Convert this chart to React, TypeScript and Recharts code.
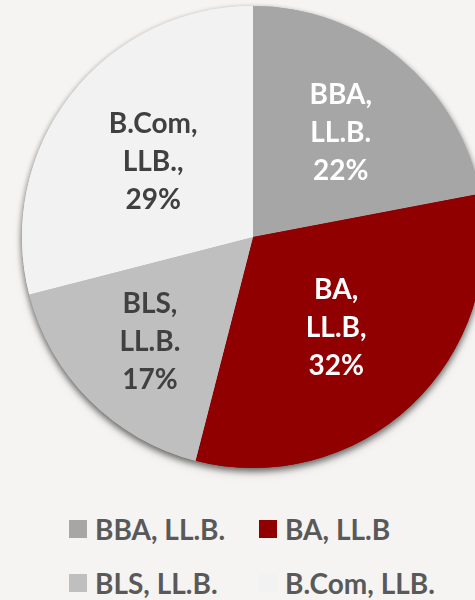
import React from "react";
import { PieChart, Pie, Cell, Legend } from "recharts";

const categories = ["BBA, LL.B.", "BA, LL.B", "BLS, LL.B.", "B.Com, LLB."];
const labelNames = [
  ["BBA,", "LL.B."],
  ["BA,", "LL.B,"],
  ["BLS,", "LL.B."],
  ["B.Com,", "LLB.,"],
];
const shares = [22, 32, 17, 29];
const colors = ["#a6a6a6", "#900000", "#bfbfbf", "#f2f2f2"];
const labelColors = ["#ffffff", "#ffffff", "#404040", "#404040"];

const data = categories.map((name, i) => ({ name, value: shares[i] }));

const FONT = "Lato, 'Open Sans', sans-serif";
const RADIAN = Math.PI / 180;

// narrow slices push their label further out, like Excel's best fit
function renderLabel(props: any) {
  const { cx, cy, midAngle, outerRadius, index, value, percent } = props;
  const r = outerRadius * (0.75 - percent * 0.7);
  const x = cx + r * Math.cos(-midAngle * RADIAN);
  const y = cy + r * Math.sin(-midAngle * RADIAN);
  const lines = [...labelNames[index], `${value}%`];
  return (
    <text
      x={x}
      y={y}
      textAnchor="middle"
      dominantBaseline="central"
      fill={labelColors[index]}
      fontSize={28}
      fontWeight={700}
      fontFamily={FONT}
    >
      {lines.map((t, j) => (
        <tspan key={j} x={x} y={y + (j - 1) * 38}>
          {t}
        </tspan>
      ))}
    </text>
  );
}

function LegendGrid() {
  return (
    <div style={{ position: "relative", width: 475, height: 78 }}>
      {categories.map((c, i) => (
        <div
          key={c}
          style={{
            position: "absolute",
            left: i % 2 === 0 ? 69 : 259,
            top: Math.floor(i / 2) * 54,
            display: "flex",
            alignItems: "center",
            height: 22,
          }}
        >
          <div style={{ width: 18, height: 18, background: colors[i] }} />
          <span
            style={{
              marginLeft: 8,
              fontFamily: FONT,
              fontWeight: 700,
              fontSize: 28,
              color: "#595959",
              whiteSpace: "nowrap",
              lineHeight: "22px",
            }}
          >
            {c}
          </span>
        </div>
      ))}
    </div>
  );
}

export default function App() {
  return (
    <div
      style={{
        position: "absolute",
        left: 0,
        top: 0,
        width: 475,
        height: 600,
        background: "#f5f4f2",
        overflow: "hidden",
      }}
    >
      <style>{`.pie-shadow { filter: drop-shadow(0px 3px 3px rgba(0,0,0,0.35)); }`}</style>
      <PieChart width={475} height={600} margin={{ top: 0, right: 0, bottom: 0, left: 0 }}>
        <Pie
          className="pie-shadow"
          data={data}
          dataKey="value"
          cx={253}
          cy={237}
          outerRadius={231}
          startAngle={90}
          endAngle={-270}
          stroke="none"
          isAnimationActive={false}
          legendType="none"
        >
          {data.map((d, i) => (
            <Cell key={d.name} fill={colors[i]} />
          ))}
        </Pie>
        <Pie
          data={data}
          dataKey="value"
          cx={253}
          cy={237}
          outerRadius={231}
          startAngle={90}
          endAngle={-270}
          stroke="none"
          label={renderLabel}
          labelLine={false}
          isAnimationActive={false}
        >
          {data.map((d, i) => (
            <Cell key={d.name} fill={colors[i]} />
          ))}
        </Pie>
        <Legend
          content={() => <LegendGrid />}
          wrapperStyle={{ position: "absolute", left: 0, top: 518, width: 475 }}
        />
      </PieChart>
    </div>
  );
}
